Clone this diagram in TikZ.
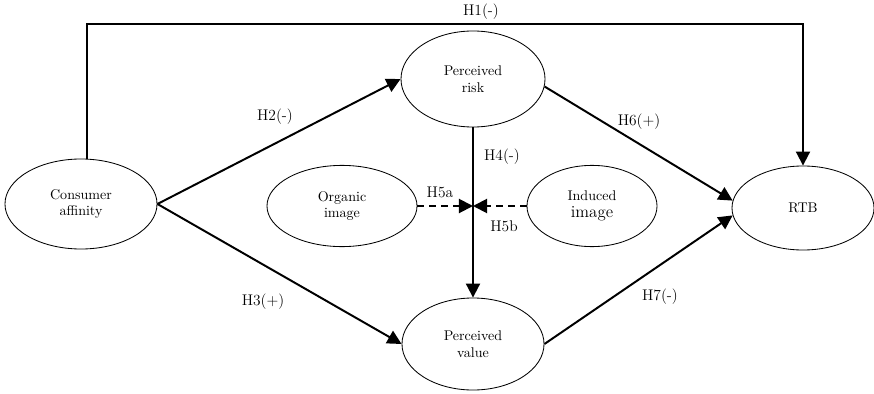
\documentclass[tikz,border=0pt]{standalone}
\usetikzlibrary{shapes.geometric,arrows.meta}
\begin{document}
\begin{tikzpicture}[x=0.025cm, y=-0.025cm,
    construct/.style={draw, ellipse, line width=0.6pt, inner sep=0pt, align=center},
    link/.style={line width=1.4pt, -{Triangle[length=10pt, width=10pt]}},
    moderator/.style={link, dash pattern=on 5pt off 3.5pt},
    hyp/.style={font=\fontsize{11}{13}\selectfont}]
   \useasboundingbox (0,0) rectangle (874,394);
   % Draw the constructs
   \node[construct, minimum width=3.8cm, minimum height=2.25cm] (ca) at (81,204) {Consumer\\affinity};
   \node[construct, minimum width=3.6cm, minimum height=2.4cm] (pr) at (473,79) {Perceived\\risk};
   \node[construct, minimum width=3.55cm, minimum height=2.3cm] (pv) at (473,344) {Perceived\\value};
   \node[construct, minimum width=3.75cm, minimum height=2.03cm] (oi) at (342,206) {Organic\\image};
   \node[construct, minimum width=3.25cm, minimum height=2.03cm] (ii) at (592,206) {Induced\\{\large image}};
   \node[construct, minimum width=3.55cm, minimum height=2.1cm] (rtb) at (803,208) {RTB};
   \coordinate (m) at (pr.south |- oi.east);
   % Draw the paths
   \draw[link] ([xshift=0.15cm]ca.north) -- ([xshift=0.15cm]ca.north |- 0,24) -| (rtb.north);
   \draw[link] (ca.east) -- (pr.west);
   \draw[link] (ca.east) -- (pv.west);
   \draw[link] (pr.south) -- (pv.north);
   \draw[link] (pr.-6) -- (rtb.174);
   \draw[link] (pv.east) -- (rtb.186);
   \draw[moderator] (oi.east) -- (m);
   \draw[moderator] (ii.west) -- (m);
   % Draw the hypotheses
   \node[hyp] (h1) at (481,12) {H1(-)};
   \node[hyp] (h2) at (275,117) {H2(-)};
   \node[hyp] (h3) at (263,302) {H3(+)};
   \node[hyp] (h4) at (502,157) {H4(-)};
   \node[hyp] (h5a) at (440,192) {H5a};
   \node[hyp] (h5b) at (504,226) {H5b};
   \node[hyp] (h6) at (639,122) {H6(+)};
   \node[hyp] (h7) at (660,297) {H7(-)};
\end{tikzpicture}
\end{document}
